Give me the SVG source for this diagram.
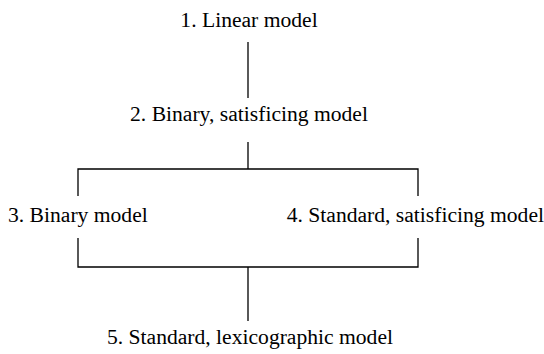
<svg xmlns="http://www.w3.org/2000/svg" width="544" height="354" viewBox="0 0 544 354">
<style>
text{font-family:"Liberation Serif","Times New Roman",serif;font-size:21.6px;fill:#000}
.c{fill:none;stroke:#000;stroke-width:1.3}
</style>
<rect width="544" height="354" fill="#fff"/>
<g id="connectors">
<path class="c" d="M248,42V98"/>
<path class="c" d="M248,142V169M78,196V169H418V196"/>
<path class="c" d="M78,238V267H418V238M248,267V321"/>
</g>
<g id="n1"><text x="249" y="27" text-anchor="middle">1. Linear model</text></g>
<g id="n2"><text x="249" y="121" text-anchor="middle">2. Binary, satisficing model</text></g>
<g id="n3"><text x="8" y="222">3. Binary model</text></g>
<g id="n4"><text x="544" y="222" text-anchor="end">4. Standard, satisficing model</text></g>
<g id="n5"><text x="250" y="344" text-anchor="middle">5. Standard, lexicographic model</text></g>
</svg>
